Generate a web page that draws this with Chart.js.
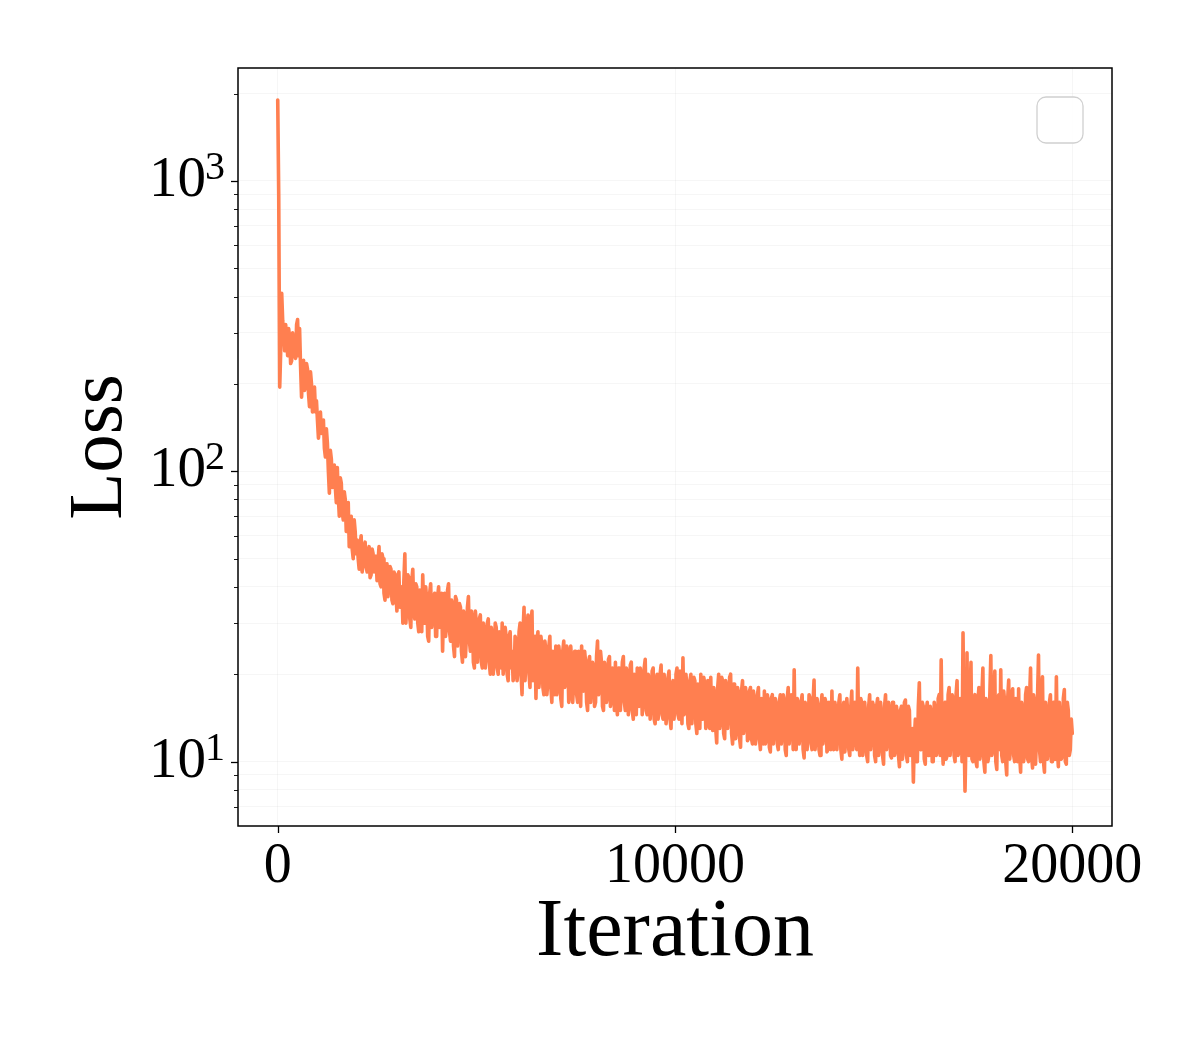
<!DOCTYPE html>
<html>
<head>
<meta charset="utf-8">
<script src="https://cdn.jsdelivr.net/npm/chart.js@4/dist/chart.umd.min.js"></script>
<style>
html,body{margin:0;padding:0;background:#fff;}
#wrap{width:1200px;height:1050px;}
</style>
</head>
<body>
<div id="wrap"><canvas id="c" width="1200" height="1050"></canvas></div>
<script>
// Iterations logged at 0, 50, 100, ...
const iterA = [
0,50,100,150,200,250,300,350,400,450,
500,550,600,650,700,750,800,850,900,950,
1000,1050,1100,1150,1200,1250,1300,1350,1400,1450,
1500,1550,1600,1650,1700,1750,1800,1850,1900,1950,
2000,2050,2100,2150,2200,2250,2300,2350,2400,2450,
2500,2550,2600,2650,2700,2750,2800,2850,2900,2950,
3000,3050,3100,3150,3200,3250,3300,3350,3400,3450,
3500,3550,3600,3650,3700,3750,3800,3850,3900,3950,
4000,4050,4100,4150,4200,4250,4300,4350,4400,4450,
4500,4550,4600,4650,4700,4750,4800,4850,4900,4950,
5000,5050,5100,5150,5200,5250,5300,5350,5400,5450,
5500,5550,5600,5650,5700,5750,5800,5850,5900,5950,
6000,6050,6100,6150,6200,6250,6300,6350,6400,6450,
6500,6550,6600,6650,6700,6750,6800,6850,6900,6950,
7000,7050,7100,7150,7200,7250,7300,7350,7400,7450,
7500,7550,7600,7650,7700,7750,7800,7850,7900,7950,
8000,8050,8100,8150,8200,8250,8300,8350,8400,8450,
8500,8550,8600,8650,8700,8750,8800,8850,8900,8950,
9000,9050,9100,9150,9200,9250,9300,9350,9400,9450,
9500,9550,9600,9650,9700,9750,9800,9850,9900,9950,
10000,10050,10100,10150,10200,10250,10300,10350,10400,10450,
10500,10550,10600,10650,10700,10750,10800,10850,10900,10950,
11000,11050,11100,11150,11200,11250,11300,11350,11400,11450,
11500,11550,11600,11650,11700,11750,11800,11850,11900,11950,
12000,12050,12100,12150,12200,12250,12300,12350,12400,12450,
12500,12550,12600,12650,12700,12750,12800,12850,12900,12950,
13000,13050,13100,13150,13200,13250,13300,13350,13400,13450,
13500,13550,13600,13650,13700,13750,13800,13850,13900,13950,
14000,14050,14100,14150,14200,14250,14300,14350,14400,14450,
14500,14550,14600,14650,14700,14750,14800,14850,14900,14950,
15000,15050,15100,15150,15200,15250,15300,15350,15400,15450,
15500,15550,15600,15650,15700,15750,15800,15850,15900,15950,
16000,16050,16100,16150,16200,16250,16300,16350,16400,16450,
16500,16550,16600,16650,16700,16750,16800,16850,16900,16950,
17000,17050,17100,17150,17200,17250,17300,17350,17400,17450,
17500,17550,17600,17650,17700,17750,17800,17850,17900,17950,
18000,18050,18100,18150,18200,18250,18300,18350,18400,18450,
18500,18550,18600,18650,18700,18750,18800,18850,18900,18950,
19000,19050,19100,19150,19200,19250,19300,19350,19400,19450,
19500,19550,19600,19650,19700,19750,19800,19850,19900,19950,
20000
];
const lossA = [
1900,195,410,300,320,250,290,240,270,245,
333,310,180,241,200,225,167,200,180,160,
150,142,135,150,112,125,84,110,95,88,
103,70,91,68,80,74,55,70,50,62,
58,46,60,48,57,45,55,44,52,47,
42,55,40,50,36,48,41,46,35,44,
33,45,38,30,52,34,43,29,46,31,
40,28,38,44,30,36,26,41,32,38,
27,40,33,24,38,30,41,26,35,23,
36,29,34,22,32,27,37,24,31,21,
30,25,32,21,28,24,31,20,27,23,
29,20,26,30,22,27,19,28,24,20,
26,21,30,17,34,23,32,18,33,22,
16.5,28,20,25,17,24,19,27,16,22,
25,18,23,15.5,26,20,24,17,22,19,
24,16,21,25,17.5,22,15,23,19,21,
16,26,18,22,15,21,17,23,16.5,20,
22,14.5,21,18,23,15,20,16,22,14,
19,21,15.5,20,17,22.5,14.5,19,16,21,
13.5,20,16,21.5,14,18,15,20.5,13,19,
16,21,14,19,22.8,15,18,13,20,15.5,
19,12.5,17,20,14,18.5,13.5,16,19.5,12.8,
17,11.6,20,14,19,12,18,15,20,11.5,
18.5,13,17,11.2,19,14,16.5,12,18,11.5,
16,12.5,18,11,15,17.5,12,16,10.8,17,
13,15.5,11,17,12.5,16,10.5,18,13.5,15,
20.7,11,16,12.5,17,10.3,15,13,16.5,11,
19.1,12,15.5,10.5,17,13,16,11,14.5,17.5,
11,15,12.5,17,10.2,16,12,14.5,10.5,17.5,
12,15,21,10.5,16,11.5,14,10,17,12.5,
15.5,10,16.5,11.5,14,9.8,17,12,15,10.3,
16,11,14.5,9.6,15.5,12,16.3,10,15,11.5,
8.5,14,10,18.7,11,15.5,9.8,16,10.5,14.5,
10,15,11,17,22.4,9.8,16,10.5,18,12,
16.5,10,19,11,15,27.8,7.9,23.7,10.5,22,
10,17,9.6,18,11,21,9.2,16,10.5,23.2,
11,20.5,9.4,17,20.7,10,16,9,19.1,11.5,
17.8,10,16,17.8,9.2,15,11,18,10,21,
9.5,16,12,23.3,10,19.6,9.2,15,11,17,
10,16,19.6,9.6,14,10.5,17.7,9.8,15,11,
12.5
];

// Iterations logged at 25, 75, 125, ...
const iterB = [
25,75,125,175,225,275,325,375,425,475,
525,575,625,675,725,775,825,875,925,975,
1025,1075,1125,1175,1225,1275,1325,1375,1425,1475,
1525,1575,1625,1675,1725,1775,1825,1875,1925,1975,
2025,2075,2125,2175,2225,2275,2325,2375,2425,2475,
2525,2575,2625,2675,2725,2775,2825,2875,2925,2975,
3025,3075,3125,3175,3225,3275,3325,3375,3425,3475,
3525,3575,3625,3675,3725,3775,3825,3875,3925,3975,
4025,4075,4125,4175,4225,4275,4325,4375,4425,4475,
4525,4575,4625,4675,4725,4775,4825,4875,4925,4975,
5025,5075,5125,5175,5225,5275,5325,5375,5425,5475,
5525,5575,5625,5675,5725,5775,5825,5875,5925,5975,
6025,6075,6125,6175,6225,6275,6325,6375,6425,6475,
6525,6575,6625,6675,6725,6775,6825,6875,6925,6975,
7025,7075,7125,7175,7225,7275,7325,7375,7425,7475,
7525,7575,7625,7675,7725,7775,7825,7875,7925,7975,
8025,8075,8125,8175,8225,8275,8325,8375,8425,8475,
8525,8575,8625,8675,8725,8775,8825,8875,8925,8975,
9025,9075,9125,9175,9225,9275,9325,9375,9425,9475,
9525,9575,9625,9675,9725,9775,9825,9875,9925,9975,
10025,10075,10125,10175,10225,10275,10325,10375,10425,10475,
10525,10575,10625,10675,10725,10775,10825,10875,10925,10975,
11025,11075,11125,11175,11225,11275,11325,11375,11425,11475,
11525,11575,11625,11675,11725,11775,11825,11875,11925,11975,
12025,12075,12125,12175,12225,12275,12325,12375,12425,12475,
12525,12575,12625,12675,12725,12775,12825,12875,12925,12975,
13025,13075,13125,13175,13225,13275,13325,13375,13425,13475,
13525,13575,13625,13675,13725,13775,13825,13875,13925,13975,
14025,14075,14125,14175,14225,14275,14325,14375,14425,14475,
14525,14575,14625,14675,14725,14775,14825,14875,14925,14975,
15025,15075,15125,15175,15225,15275,15325,15375,15425,15475,
15525,15575,15625,15675,15725,15775,15825,15875,15925,15975,
16025,16075,16125,16175,16225,16275,16325,16375,16425,16475,
16525,16575,16625,16675,16725,16775,16825,16875,16925,16975,
17025,17075,17125,17175,17225,17275,17325,17375,17425,17475,
17525,17575,17625,17675,17725,17775,17825,17875,17925,17975,
18025,18075,18125,18175,18225,18275,18325,18375,18425,18475,
18525,18575,18625,18675,18725,18775,18825,18875,18925,18975,
19025,19075,19125,19175,19225,19275,19325,19375,19425,19475,
19525,19575,19625,19675,19725,19775,19825,19875,19925,19975
];
const lossB = [
900,260,330,260,290,310,235,300,250,320,
250,230,215,190,235,185,220,160,195,175,
130,160,148,120,140,100,118,88,105,78,
82,95,72,85,62,78,66,54,68,52,
50,56,45,55,47,53,43,54,45,51,
49,41,52,38,46,37,47,36,45,38,
44,34,40,42,30,44,31,42,33,41,
30,39,28,33,40,27,38,29,37,27,
37,29,38,35,27,39,28,36,25,37,
25,35,24,33,23,34,26,33,22,33,
22,31,22,30,21,30,22,29,20,30,
21,28,21,20,29,20,27,21,19,27,
19,28,20,28,19,29,20,30,19,27,
26,18,27,18,26,17,25,18,24,17,
17,25,16.5,24,18,25,16,25,16,24,
17,24,15.5,18,24,16,22,16,22,15.5,
23,17,24,15.5,22,16,22.5,15.5,21,15,
16,21,15,22,16,21,14.5,21.5,15,20,
14.5,16,21,14.5,21,15,20,14,20.5,14,
19,14,20,14.5,20,13.5,19.5,14,18.5,14,
20,14.5,20.5,13.5,14.5,20,13.5,19,13.5,19.5,
13.5,18.5,13,14,19.5,13,19,13,13.5,18,
13,18,13,19.5,12.5,19,13,19.5,12.5,18.5,
12,18,12,17.5,12.5,18,11.8,17.5,12,17.5,
11.5,17,12,16.5,11.5,11.5,17,11.2,16.5,11.5,
16.5,11.5,16,11.5,17,11,16.5,11.5,17,11,
12,16.5,11.5,16,11,16,11,17,11.5,16,
11,16.5,11,15.5,11.5,16.5,10.8,16,11,11.5,
16,11,16,11,15,10.8,16.5,11,15.5,11,
16,11,12,16.5,10.5,16,10.5,15.5,11,16,
10.5,15.5,10.5,16,10.5,15.5,11,16,10.5,16,
10.5,15.5,10.5,15,10.2,16,10.5,15.5,10.5,13,
12,10,15.5,11,16,10.2,15,10.5,15.5,10,
16,10.5,16.5,10.5,12,15.5,10.2,17,10.5,17,
10.5,17,10.5,16.5,10,13,12,11,16,10.2,
16.5,10,16,10.2,17,10,16.5,10,17,10.5,
17,10,16,11,10.5,17.5,10,16.5,10.2,17,
10.5,16.5,10,10.5,16,10,17,10.2,16.5,10.5,
17,9.8,16.5,11,17,10,16,10.2,16,10,
16,10.2,11,16,10.2,16.5,10,16,10.5,14
];

const xTicks = [0, 10000, 20000];
const yTicks = [7,8,9,10,20,30,40,50,60,70,80,90,100,200,300,400,500,600,700,800,900,1000,2000];
const yMajorExp = {10:'1', 100:'2', 1000:'3'};

const FONT = "'Liberation Serif', 'DejaVu Serif', serif";

// one series: both logging grids merged in iteration order
const points = iterA.map((x, i) => ({x: x, y: lossA[i]}))
  .concat(iterB.map((x, i) => ({x: x, y: lossB[i]})))
  .sort((p, q) => p.x - q.x);

const framePlugin = {
  id: 'frame',
  afterDraw(chart) {
    const {ctx, chartArea: a, scales} = chart;
    ctx.save();
    ctx.strokeStyle = '#000';
    const ys = scales.y;
    yTicks.forEach(v => {
      const p = Math.round(ys.getPixelForValue(v)) + 0.5;
      const major = !!yMajorExp[v];
      ctx.lineWidth = major ? 1.3 : 0.9;
      ctx.beginPath();
      ctx.moveTo(a.left, p);
      ctx.lineTo(a.left - (major ? 7 : 4), p);
      ctx.stroke();
      if (major) {
        ctx.fillStyle = '#000';
        ctx.font = "40px " + FONT;
        ctx.textAlign = 'left';
        ctx.textBaseline = 'alphabetic';
        ctx.fillText(yMajorExp[v], 205, p - 3);
      }
    });
    const xs = scales.x;
    xTicks.forEach(v => {
      const p = Math.round(xs.getPixelForValue(v)) + 0.5;
      ctx.lineWidth = 1.3;
      ctx.beginPath();
      ctx.moveTo(p, a.bottom);
      ctx.lineTo(p, a.bottom + 7);
      ctx.stroke();
    });
    ctx.lineWidth = 1.5;
    ctx.strokeRect(a.left, a.top, a.right - a.left, a.bottom - a.top);
    // empty legend box
    const bw = 46, bh = 46, bx = a.right - 29 - bw, by = a.top + 29;
    ctx.beginPath();
    ctx.roundRect(bx, by, bw, bh, 9);
    ctx.fillStyle = 'rgba(255,255,255,0.8)';
    ctx.fill();
    ctx.strokeStyle = '#d0d0d0';
    ctx.lineWidth = 1.3;
    ctx.stroke();
    ctx.restore();
  }
};

new Chart(document.getElementById('c'), {
  type: 'line',
  data: {
    datasets: [{
      data: points,
      borderColor: '#FF7F50',
      borderWidth: 3.6,
      borderJoinStyle: 'round',
      borderCapStyle: 'round',
      pointRadius: 0,
      tension: 0,
      fill: false
    }]
  },
  options: {
    responsive: false,
    animation: false,
    devicePixelRatio: 1,
    layout: {padding: {top: 68, right: 88, left: 0, bottom: 0}},
    plugins: {legend: {display: false}, tooltip: {enabled: false}},
    scales: {
      x: {
        type: 'linear',
        min: -1000, max: 21000,
        afterBuildTicks: s => { s.ticks = xTicks.map(v => ({value: v})); },
        afterFit: s => { s.height = 224; },
        grid: {color: 'rgba(0,0,0,0.035)', lineWidth: 1, drawTicks: false},
        border: {display: false},
        ticks: {
          color: '#000', padding: 8,
          font: {family: FONT, size: 56},
          callback: v => String(v),
          maxRotation: 0, autoSkip: false
        },
        title: {
          display: true, text: 'Iteration', color: '#000',
          font: {family: FONT, size: 82},
          padding: {top: 0, bottom: 67}
        }
      },
      y: {
        type: 'logarithmic',
        min: 6, max: 2450,
        afterBuildTicks: s => { s.ticks = yTicks.map(v => ({value: v})); },
        afterFit: s => { s.width = 238; },
        grid: {color: 'rgba(0,0,0,0.035)', lineWidth: 1, drawTicks: false},
        border: {display: false},
        ticks: {
          color: '#000', padding: 32,
          font: {family: FONT, size: 57},
          callback: v => (yMajorExp[v] ? '10' : ''),
          autoSkip: false
        },
        title: {
          display: true, text: 'Loss', color: '#000',
          font: {family: FONT, size: 77},
          padding: {top: 55, bottom: 0}
        }
      }
    }
  },
  plugins: [framePlugin]
});
</script>
</body>
</html>
